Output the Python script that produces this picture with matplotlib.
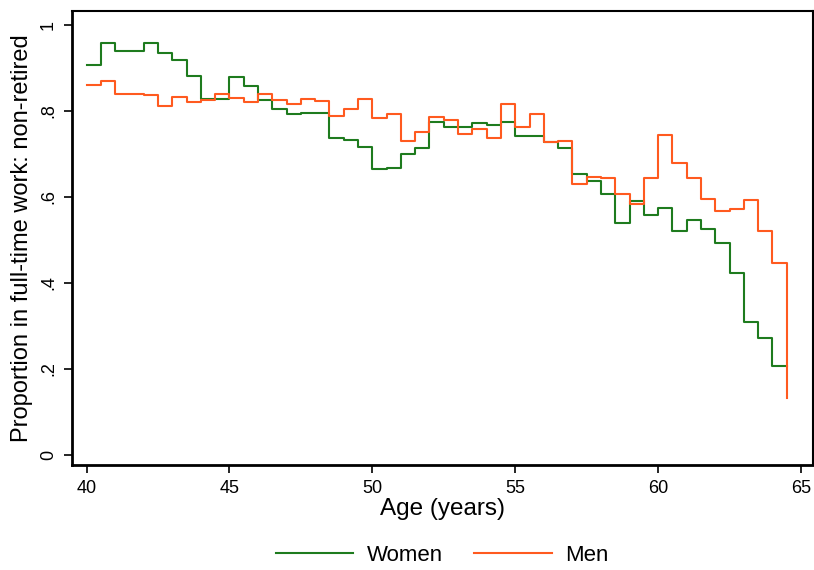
import numpy as np
import matplotlib
matplotlib.use("Agg")
import matplotlib.pyplot as plt

plt.rcParams['font.family'] = ['Liberation Sans', 'DejaVu Sans']

# half-year age bins, 40 to 64.5
age = np.arange(40, 65, 0.5)

women = [0.906, 0.959, 0.939, 0.939, 0.959, 0.936, 0.918, 0.881, 0.827, 0.827,
         0.878, 0.857, 0.825, 0.804, 0.792, 0.795, 0.795, 0.738, 0.733, 0.716,
         0.665, 0.668, 0.700, 0.713, 0.774, 0.763, 0.763, 0.771, 0.767, 0.774,
         0.742, 0.742, 0.728, 0.714, 0.653, 0.637, 0.607, 0.540, 0.591, 0.557,
         0.575, 0.521, 0.546, 0.526, 0.492, 0.423, 0.309, 0.271, 0.206, 0.206]

men = [0.861, 0.870, 0.840, 0.840, 0.836, 0.812, 0.832, 0.821, 0.825, 0.840,
       0.829, 0.821, 0.840, 0.825, 0.816, 0.827, 0.823, 0.788, 0.804, 0.828,
       0.783, 0.792, 0.730, 0.751, 0.787, 0.778, 0.747, 0.758, 0.738, 0.816,
       0.763, 0.792, 0.727, 0.730, 0.629, 0.647, 0.643, 0.606, 0.583, 0.644,
       0.743, 0.678, 0.644, 0.595, 0.567, 0.571, 0.592, 0.521, 0.447, 0.133]

xticks = [40, 45, 50, 55, 60, 65]
yticks = [0, 0.2, 0.4, 0.6, 0.8, 1]
ylabels = ['0', '.2', '.4', '.6', '.8', '1']

fig = plt.figure(figsize=(8.14, 5.70), dpi=100)
ax = fig.add_axes([0.0888, 0.185, 0.9096, 0.796])

l1, = ax.step(age, women, where='post', color='#1e7b1e', lw=1.5, label='Women')
l2, = ax.step(age, men, where='post', color='#ff5a1f', lw=1.5, label='Men')

ax.set_xlim(39.5, 65.41)
ax.set_ylim(-0.023, 1.033)
ax.set_xticks(xticks)
ax.set_xticklabels([str(t) for t in xticks])
ax.set_yticks(yticks)
ax.set_yticklabels(ylabels, rotation=90, va='center')
ax.tick_params(axis='both', direction='out', length=6, width=1.2,
               labelsize=13, colors='black', pad=5)

for side in ['left', 'bottom']:
    ax.spines[side].set_linewidth(2.0)
for side in ['top', 'right']:
    ax.spines[side].set_linewidth(1.5)

ax.set_xlabel('Age (years)', fontsize=17.5, labelpad=1)
ax.set_ylabel('Proportion in full-time work: non-retired', fontsize=17, labelpad=5)

fig.legend(handles=[l1, l2], loc='center', bbox_to_anchor=(0.543, 0.025),
           ncol=2, frameon=False, fontsize=16, handlelength=3.5,
           columnspacing=1.4, handletextpad=0.6)

fig.savefig('out.png', dpi=100)
